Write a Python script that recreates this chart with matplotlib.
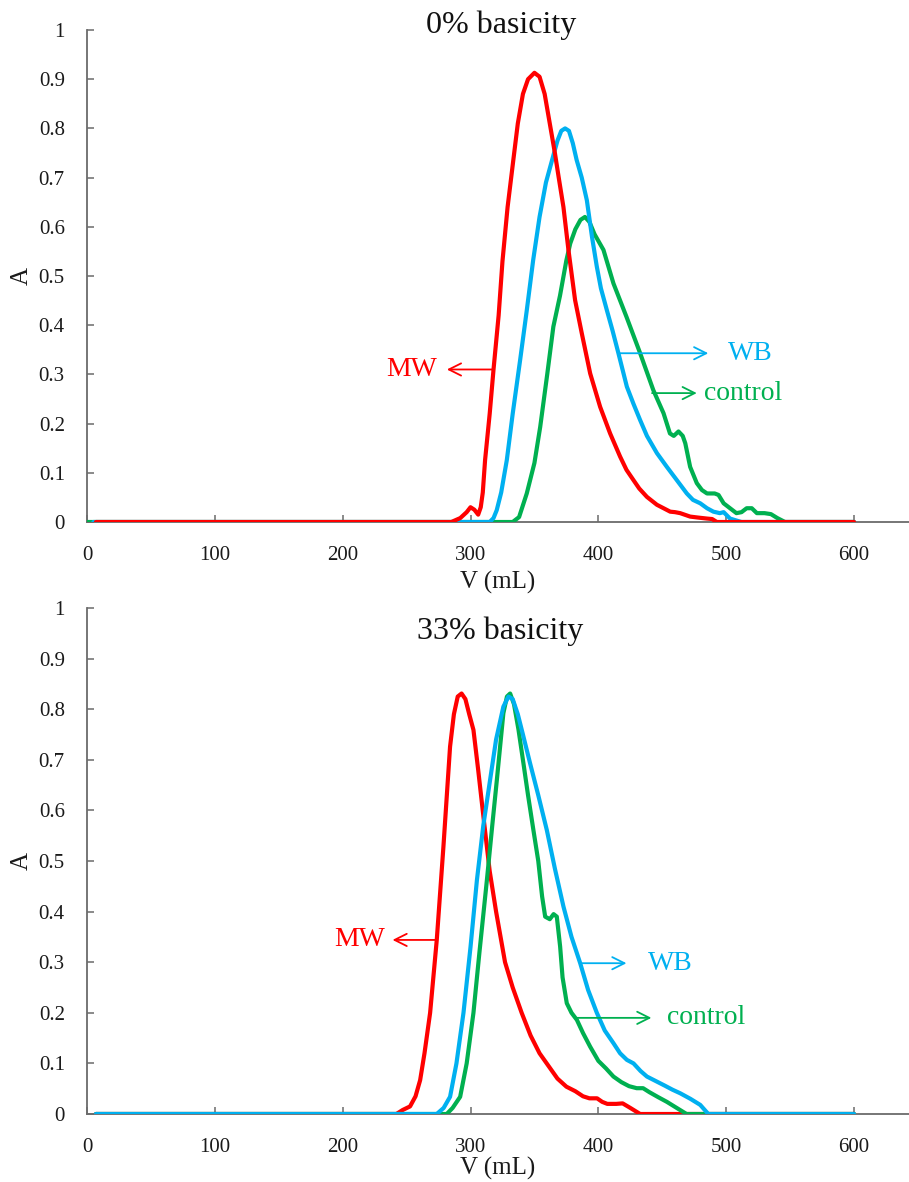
import matplotlib
matplotlib.use("Agg")
import matplotlib.pyplot as plt

plt.rcParams['font.family'] = ['Liberation Serif', 'DejaVu Serif']

# ---------------- data: 0% basicity ----------------
top_red_x = [7, 285, 292, 297, 300, 303, 306, 308, 309.6, 311.4, 315, 318, 322, 325, 329,
             333.5, 337, 341, 345, 350, 354, 358, 362, 366, 369, 372.7, 376.6, 381.8, 387,
             393.6, 401.4, 409.2, 417, 422, 427.5, 432, 438, 445.8, 451, 456.2, 460, 464,
             471.8, 478, 484.9, 489, 492.7, 600]
top_red_y = [0, 0, 0.008, 0.02, 0.03, 0.025, 0.015, 0.03, 0.06, 0.126, 0.22, 0.31, 0.42, 0.53,
             0.64, 0.736, 0.81, 0.87, 0.90, 0.913, 0.905, 0.87, 0.81, 0.75, 0.70, 0.64, 0.553,
             0.451, 0.384, 0.302, 0.234, 0.18, 0.133, 0.106, 0.085, 0.068, 0.051, 0.035, 0.028,
             0.021, 0.02, 0.018, 0.011, 0.009, 0.007, 0.006, 0, 0]

top_blue_x = [5, 315, 318, 320.5, 324, 328.4, 333, 338.8, 344, 349, 354, 359, 364.8, 368, 371,
              374, 377, 380, 383, 387, 391, 395, 398.8, 402, 406.6, 411, 415.7, 422.3, 427.5,
              432.7, 438, 445.8, 453.6, 461.4, 469.2, 474, 479.7, 485, 490, 495, 498, 503,
              508, 512, 600]
top_blue_y = [0, 0, 0.008, 0.024, 0.06, 0.126, 0.22, 0.329, 0.43, 0.532, 0.62, 0.69, 0.745,
              0.775, 0.795, 0.80, 0.795, 0.77, 0.736, 0.70, 0.654, 0.58, 0.519, 0.475, 0.431,
              0.39, 0.343, 0.275, 0.24, 0.207, 0.175, 0.14, 0.112, 0.085, 0.058, 0.045, 0.038,
              0.028, 0.021, 0.018, 0.02, 0.007, 0.003, 0, 0]

top_green_x = [0, 333, 338, 344, 350, 354.5, 360, 364.8, 370, 375, 378, 382, 386, 389.5, 393,
               397, 404, 411.8, 422, 432.7, 443, 451, 456, 459, 462.7, 466, 468, 471.8, 477,
               481, 485, 491, 494, 498, 503, 508, 512, 516, 520, 524, 530, 535, 540, 546, 600]
top_green_y = [0, 0, 0.01, 0.058, 0.12, 0.193, 0.30, 0.397, 0.46, 0.532, 0.566, 0.595, 0.614,
               0.62, 0.61, 0.585, 0.553, 0.485, 0.417, 0.343, 0.268, 0.221, 0.18, 0.175, 0.184,
               0.175, 0.16, 0.112, 0.079, 0.065, 0.058, 0.058, 0.055, 0.038, 0.028, 0.018, 0.02,
               0.028, 0.028, 0.018, 0.018, 0.016, 0.008, 0, 0]

# ---------------- data: 33% basicity ----------------
bot_red_x = [7, 242, 247, 252.7, 257, 260.6, 264, 268.4, 273.6, 278.8, 284, 287, 290, 293, 296,
             299, 302.3, 306, 310, 315, 320, 327, 333, 340, 347, 354, 361, 368, 375, 382, 388,
             393, 399, 403, 407, 414, 419, 425, 432.7, 600]
bot_red_y = [0, 0, 0.008, 0.015, 0.035, 0.067, 0.12, 0.2, 0.344, 0.528, 0.726, 0.79, 0.825,
             0.831, 0.82, 0.79, 0.759, 0.68, 0.59, 0.48, 0.40, 0.30, 0.25, 0.20, 0.155, 0.12,
             0.095, 0.07, 0.054, 0.045, 0.035, 0.031, 0.031, 0.024, 0.02, 0.02, 0.021, 0.012,
             0, 0]

bot_blue_x = [7, 273.6, 279, 284, 289, 294.5, 300, 305, 310, 315.3, 320, 325.7, 329.7, 333, 337,
              341, 346.6, 353, 359.7, 366, 372.7, 379, 385.8, 392, 398.8, 405, 411.8, 417,
              422.3, 427.5, 433, 438, 445, 452, 458, 464, 472, 479.7, 486, 600]
bot_blue_y = [0, 0, 0.012, 0.034, 0.1, 0.2, 0.33, 0.462, 0.57, 0.66, 0.74, 0.805, 0.825, 0.82,
              0.79, 0.75, 0.693, 0.63, 0.561, 0.485, 0.41, 0.35, 0.298, 0.245, 0.2, 0.165, 0.14,
              0.12, 0.107, 0.1, 0.085, 0.074, 0.065, 0.056, 0.048, 0.041, 0.03, 0.018, 0, 0]

bot_green_x = [7, 281.4, 286, 291.9, 297, 302.3, 307, 312.8, 317, 320.6, 325.7, 328.5, 331, 334,
               337.5, 341.4, 345, 349.2, 353, 356, 358.4, 362, 365, 367.5, 370.1, 372, 375.3,
               379, 383.2, 388, 393.6, 400, 406, 411.8, 418, 424, 430, 435, 440, 447, 453.6,
               460, 469, 600]
bot_green_y = [0, 0, 0.012, 0.034, 0.1, 0.2, 0.32, 0.462, 0.57, 0.66, 0.792, 0.825, 0.831, 0.81,
               0.76, 0.693, 0.63, 0.561, 0.5, 0.43, 0.39, 0.385, 0.395, 0.39, 0.331, 0.27,
               0.219, 0.2, 0.186, 0.16, 0.133, 0.105, 0.09, 0.074, 0.063, 0.055, 0.051, 0.051,
               0.043, 0.033, 0.024, 0.014, 0, 0]

titles = ["0% basicity", "33% basicity"]
x_ticks = [0, 100, 200, 300, 400, 500, 600]
y_ticks = [0, 0.1, 0.2, 0.3, 0.4, 0.5, 0.6, 0.7, 0.8, 0.9, 1]
y_tick_labels = ["0", "0.1", "0.2", "0.3", "0.4", "0.5", "0.6", "0.7", "0.8", "0.9", "1"]

RED = "#FF0000"
BLUE = "#00B0F0"
GREEN = "#00B050"
SPINE = "#6b6b6b"

W, H = 909, 1182
fig = plt.figure(figsize=(W / 100, H / 100), dpi=100)

def px_axes(left, top, right, bottom):
    return fig.add_axes([left / W, 1 - bottom / H, (right - left) / W, (bottom - top) / H])

ax1 = px_axes(87, 30, 909, 522)
ax2 = px_axes(87, 608, 909, 1114)

line_kw = dict(lw=3.0, solid_capstyle='round', solid_joinstyle='round')

ax1.plot(top_green_x, top_green_y, color=GREEN, **line_kw)
ax1.plot(top_blue_x, top_blue_y, color=BLUE, **line_kw)
ax1.plot(top_red_x, top_red_y, color=RED, **line_kw)

ax2.plot(bot_red_x, bot_red_y, color=RED, **line_kw)
ax2.plot(bot_green_x, bot_green_y, color=GREEN, **line_kw)
ax2.plot(bot_blue_x, bot_blue_y, color=BLUE, **line_kw)

for ax, title, xl_y in [(ax1, titles[0], -0.122), (ax2, titles[1], -0.107)]:
    ax.set_xlim(0, 643)
    ax.set_ylim(0, 1)
    ax.set_xticks(x_ticks)
    ax.set_xticklabels([str(v) for v in x_ticks])
    ax.set_yticks(y_ticks)
    ax.set_yticklabels(y_tick_labels)
    for s in ['top', 'right']:
        ax.spines[s].set_visible(False)
    for s in ['left', 'bottom']:
        ax.spines[s].set_color(SPINE)
        ax.spines[s].set_linewidth(1.3)
    ax.tick_params(axis='both', direction='in', length=5, width=1.1, color=SPINE,
                   labelsize=15, labelcolor='#1a1a1a')
    ax.tick_params(axis='y', pad=16)
    ax.tick_params(axis='x', pad=17)
    ax.set_xlabel("V (mL)", fontsize=18, color='#1a1a1a')
    ax.xaxis.set_label_coords(0.5, xl_y)
    ax.xaxis.label.set_verticalalignment('center')
    ax.set_ylabel("A", fontsize=18, color='#1a1a1a')
    ax.yaxis.set_label_coords(-0.079, 0.5)
    ax.yaxis.label.set_verticalalignment('center')
    for sp in ax.spines.values():
        sp.set_zorder(0.5)

fig.text(501 / W, 1 - 25 / H, titles[0], ha='center', va='center', fontsize=23, color='#111111')
fig.text(500 / W, 1 - 631 / H, titles[1], ha='center', va='center', fontsize=23, color='#111111')

def note(ax, text, color, x0, x1, y, tx, ha):
    ax.annotate("", xy=(x1, y), xytext=(x0, y),
                arrowprops=dict(arrowstyle='->', color=color, lw=1.3,
                                mutation_scale=22, shrinkA=0, shrinkB=0))
    ax.text(tx, y, text, color=color, fontsize=20, ha=ha, va='center')

note(ax1, "MW", RED, 318, 281.5, 0.31, 274, 'right')
note(ax1, "WB", BLUE, 417, 486, 0.343, 501, 'left')
note(ax1, "control", GREEN, 442, 477, 0.262, 483, 'left')

note(ax2, "MW", RED, 273.6, 239, 0.344, 233, 'right')
note(ax2, "WB", BLUE, 385.8, 422, 0.298, 439, 'left')
note(ax2, "control", GREEN, 383.4, 441.5, 0.19, 454, 'left')

fig.savefig("out.png", dpi=100)
